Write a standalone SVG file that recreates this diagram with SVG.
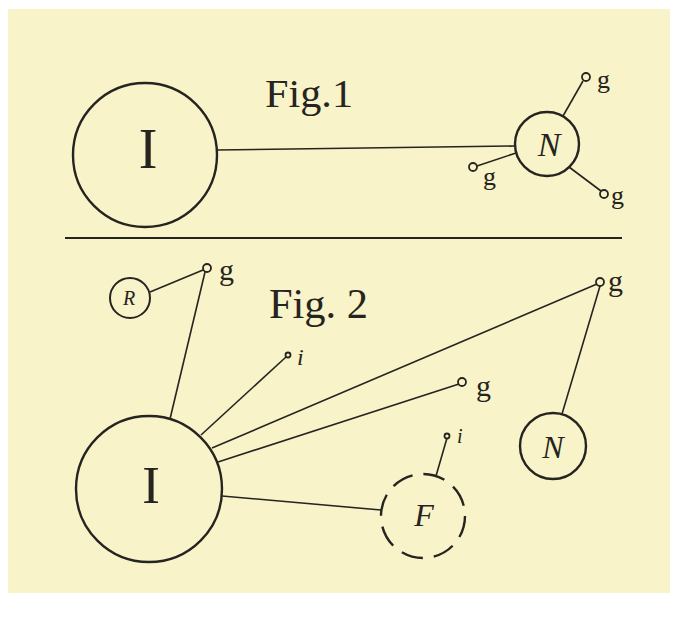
<svg xmlns="http://www.w3.org/2000/svg" width="677" height="617" viewBox="0 0 677 617">
<style>
.ink{stroke:#262420;fill:none}
.big{stroke-width:2.4}
.mid{stroke-width:2}
.ln{stroke-width:1.6}
.dot{stroke:#262420;stroke-width:1.8;fill:#f8f3c8}
.t{font-family:"Liberation Serif","DejaVu Serif",serif;fill:#262420}
.it{font-style:italic}
</style>
<rect x="0" y="0" width="677" height="617" fill="#ffffff"/>
<rect x="8" y="9" width="662" height="584" fill="#f8f3c8"/>
<g id="connectors">
<line class="ink ln" x1="217" y1="150" x2="515" y2="146"/>
<line class="ink ln" x1="563" y1="116" x2="583" y2="81"/>
<line class="ink ln" x1="477" y1="166" x2="516" y2="153"/>
<line class="ink ln" x1="569" y1="167" x2="601" y2="191"/>
<line class="ink mid" x1="65" y1="238" x2="622" y2="238"/>
<line class="ink ln" x1="150" y1="292" x2="203" y2="270"/>
<line class="ink ln" x1="205" y1="272" x2="170" y2="419"/>
<line class="ink ln" x1="201" y1="435" x2="286" y2="357"/>
<line class="ink ln" x1="212" y1="448" x2="597" y2="284"/>
<line class="ink ln" x1="600" y1="286" x2="562" y2="414"/>
<line class="ink ln" x1="218" y1="462" x2="459" y2="384"/>
<line class="ink ln" x1="447" y1="438" x2="436" y2="476"/>
<line class="ink ln" x1="222" y1="496" x2="381" y2="510"/>
</g>
<g id="fig1-title"><text class="t" x="265" y="107" font-size="40" textLength="88" lengthAdjust="spacingAndGlyphs">Fig.1</text></g>
<g id="fig1-I"><circle class="ink big" cx="145" cy="155" r="72"/><text class="t" x="148" y="168" font-size="56" text-anchor="middle">I</text></g>
<g id="fig1-N"><circle class="ink big" cx="547" cy="144" r="32"/><text class="t it" x="549" y="156" font-size="34" text-anchor="middle">N</text></g>
<g id="fig1-g1"><circle class="dot" cx="586" cy="77" r="4"/><text class="t" x="597" y="88" font-size="26">g</text></g>
<g id="fig1-g2"><circle class="dot" cx="473" cy="167" r="4"/><text class="t" x="483" y="185" font-size="26">g</text></g>
<g id="fig1-g3"><circle class="dot" cx="604" cy="194" r="4"/><text class="t" x="611" y="204" font-size="26">g</text></g>
<g id="fig2-title"><text class="t" x="269" y="318" font-size="42" textLength="99" lengthAdjust="spacingAndGlyphs">Fig. 2</text></g>
<g id="fig2-R"><circle class="ink mid" cx="130" cy="298" r="20"/><text class="t it" x="129" y="305" font-size="20" text-anchor="middle">R</text></g>
<g id="fig2-g1"><circle class="dot" cx="207" cy="268" r="4"/><text class="t" x="219" y="280" font-size="30">g</text></g>
<g id="fig2-I"><circle class="ink big" cx="149" cy="489" r="73"/><text class="t" x="151" y="503" font-size="53" text-anchor="middle">I</text></g>
<g id="fig2-i1"><circle class="dot" cx="288" cy="355" r="2.5"/><text class="t it" x="297" y="365" font-size="24">i</text></g>
<g id="fig2-g2"><circle class="dot" cx="600" cy="282" r="4"/><text class="t" x="608" y="291" font-size="30">g</text></g>
<g id="fig2-g3"><circle class="dot" cx="462" cy="382" r="4"/><text class="t" x="476" y="396" font-size="30">g</text></g>
<g id="fig2-N"><circle class="ink big" cx="553" cy="446" r="33"/><text class="t it" x="553" y="458" font-size="32" text-anchor="middle">N</text></g>
<g id="fig2-i2"><circle class="dot" cx="447" cy="436" r="2.5"/><text class="t it" x="457" y="443" font-size="20">i</text></g>
<g id="fig2-F"><circle class="ink big" cx="423" cy="516" r="42" stroke-dasharray="22 11"/><text class="t it" x="424" y="526" font-size="32" text-anchor="middle">F</text></g>
</svg>
